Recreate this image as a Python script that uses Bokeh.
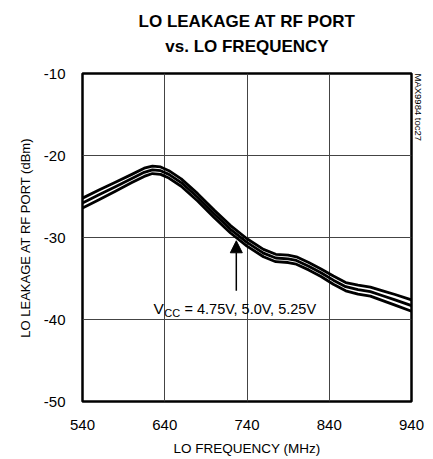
from bokeh.plotting import figure
from bokeh.models import Label, Arrow, NormalHead, FixedTicker, Range1d, Title, LinearAxis
from bokeh.embed import file_html
from bokeh.resources import INLINE

# ---- data ----
freq_mhz = [540, 560, 580, 600, 615, 625, 635, 645, 660, 680, 700, 720, 740,
            760, 775, 790, 800, 815, 830, 845, 860, 875, 890, 905, 920, 940]
leak_vcc_475 = [-25.2, -24.2, -23.25, -22.3, -21.55, -21.3, -21.4, -21.85, -22.85,
                -24.65, -26.65, -28.55, -30.15, -31.45, -32.05, -32.15, -32.35,
                -33.05, -33.85, -34.7, -35.5, -35.8, -36.05, -36.5, -36.95, -37.6]
leak_vcc_500 = [-25.8, -24.8, -23.8, -22.8, -22.05, -21.75, -21.85, -22.3, -23.3,
                -25.1, -27.1, -29.0, -30.6, -31.9, -32.5, -32.6, -32.8,
                -33.5, -34.3, -35.2, -36.0, -36.35, -36.6, -37.1, -37.6, -38.3]
leak_vcc_525 = [-26.4, -25.4, -24.35, -23.3, -22.55, -22.2, -22.3, -22.75, -23.75,
                -25.55, -27.55, -29.45, -31.05, -32.35, -32.95, -33.05, -33.25,
                -33.95, -34.75, -35.7, -36.5, -36.9, -37.15, -37.7, -38.25, -39.0]
x_ticks = [540, 640, 740, 840, 940]
y_ticks = [-50, -40, -30, -20, -10]

title_lines = ["LO LEAKAGE AT RF PORT", "vs. LO FREQUENCY"]
x_label = "LO FREQUENCY (MHz)"
y_label = "LO LEAKAGE AT RF PORT (dBm)"
side_note = "MAX9984 toc27"
annot_v = "V"
annot_sub = "CC"
annot_rest = "= 4.75V, 5.0V, 5.25V"
arrow_x = 727
arrow_tip = -30.4
arrow_tail = -36.5

FONT = "Liberation Sans"

W, H = 433, 459
FL, FR, FT, FB = 82, 411, 73, 401   # frame edges on the canvas
p = figure(width=W, height=H,
           x_range=Range1d(540, 940), y_range=Range1d(-50, -10),
           output_backend="svg", toolbar_location=None,
           min_border_left=FL, min_border_right=W - FR,
           min_border_top=FT, min_border_bottom=H - FB)
p.background_fill_color = "white"
p.border_fill_color = "white"
p.outline_line_color = "black"
p.outline_line_width = 2.5

for ax, ticks in ((p.xaxis, x_ticks), (p.yaxis, y_ticks)):
    ax.ticker = FixedTicker(ticks=ticks)
    ax.major_label_overrides = {t: str(t) for t in ticks}
    ax.axis_line_color = None
    ax.major_tick_line_color = None
    ax.minor_tick_line_color = None
    ax.major_label_text_font = FONT
    ax.major_label_text_font_size = "15px"
    ax.major_label_text_color = "black"
    ax.axis_label_text_font = FONT
    ax.axis_label_text_font_style = "normal"
    ax.axis_label_text_color = "black"
p.xaxis.axis_label_text_font_size = "13.5px"
p.yaxis.axis_label_text_font_size = "13px"
p.xaxis.major_label_standoff = 12
p.yaxis.major_label_standoff = 11
p.xaxis.axis_label = x_label
p.yaxis.axis_label = y_label
p.xaxis.axis_label_standoff = 8
p.yaxis.axis_label_standoff = 8

p.xgrid.ticker = FixedTicker(ticks=x_ticks)
p.ygrid.ticker = FixedTicker(ticks=y_ticks)
for g in (p.xgrid, p.ygrid):
    g.grid_line_color = "#444444"
    g.grid_line_width = 1
    g.grid_line_alpha = 1.0

for series in (leak_vcc_475, leak_vcc_500, leak_vcc_525):
    p.line(freq_mhz, series, line_color="black", line_width=2.8, line_join="round")

p.add_layout(Arrow(end=NormalHead(size=12, fill_color="black", line_color="black", line_width=1),
                   x_start=arrow_x, y_start=arrow_tail, x_end=arrow_x, y_end=arrow_tip,
                   line_color="black", line_width=1.5))

# annotation text (inside the frame, data units)
p.add_layout(Label(x=626.3, y=-38.66, text=annot_v, text_font=FONT, text_font_size="15.5px",
                   text_baseline="alphabetic", text_align="left", text_color="black"))
p.add_layout(Label(x=639.5, y=-39.2, text=annot_sub, text_font=FONT, text_font_size="11px",
                   text_baseline="alphabetic", text_align="left", text_color="black"))
p.add_layout(Label(x=664.0, y=-38.66, text=annot_rest, text_font=FONT, text_font_size="14.5px",
                   text_baseline="alphabetic", text_align="left", text_color="black"))

# title: second line as the label of a tick-less axis above the frame,
# first line as a title panel above that
p.title.visible = False
top_axis = LinearAxis(ticker=FixedTicker(ticks=[]), axis_label=title_lines[1],
                      axis_line_color=None, major_tick_line_color=None,
                      minor_tick_line_color=None, major_tick_out=0, major_tick_in=0,
                      minor_tick_out=0, minor_tick_in=0, major_label_standoff=0,
                      axis_label_standoff=18, axis_label_text_font=FONT,
                      axis_label_text_font_size="17px", axis_label_text_font_style="bold",
                      axis_label_text_color="black")
p.add_layout(top_axis, "above")
t1 = Title(text=title_lines[0], align="center", text_font=FONT, text_font_size="17px",
           text_font_style="bold", text_color="black", standoff=6)
p.add_layout(t1, "above")
note = Title(text=side_note, align="left", text_font=FONT, text_font_size="9.5px",
             text_font_style="normal", text_color="black", standoff=2)
p.add_layout(note, "right")

open("out.html", "w").write(file_html(p, INLINE))
